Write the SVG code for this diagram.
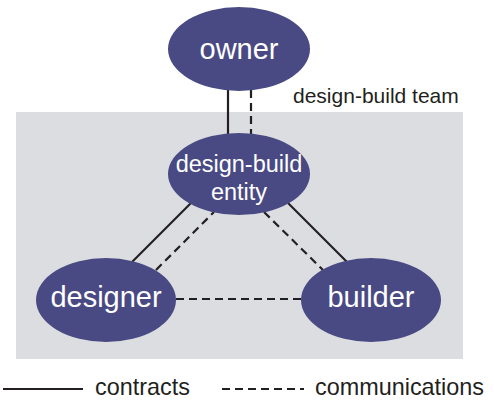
<svg xmlns="http://www.w3.org/2000/svg" width="494" height="403" viewBox="0 0 494 403">
<style>
.node{fill:#494a84}
.nt{fill:#fff;font-family:"Liberation Sans",Arial,sans-serif;text-anchor:middle}
.lbl{fill:#231f20;font-family:"Liberation Sans",Arial,sans-serif}
.solid{stroke:#231f20;stroke-width:2.2;fill:none}
.dash{stroke:#231f20;stroke-width:2.2;fill:none;stroke-dasharray:8 5}
</style>
<rect x="16" y="112" width="447" height="247" fill="#dcdde0"/>
<text class="lbl" x="293" y="103" font-size="21">design-build team</text>
<g id="connectors">
<line class="solid" x1="228" y1="88" x2="228" y2="136"/>
<line class="dash" x1="251" y1="90" x2="251" y2="136"/>
<line class="solid" x1="132" y1="262" x2="191" y2="203"/>
<line class="dash" x1="156" y1="270" x2="214" y2="212"/>
<line class="solid" x1="288" y1="203" x2="347" y2="262"/>
<line class="dash" x1="264" y1="212" x2="323" y2="270"/>
<line class="dash" x1="176" y1="299" x2="302" y2="299"/>
</g>
<g id="owner"><ellipse class="node" cx="239" cy="49" rx="71" ry="42"/><text class="nt" x="239" y="59" font-size="29">owner</text></g>
<g id="entity"><ellipse class="node" cx="239" cy="174" rx="71" ry="41"/><text class="nt" x="239" y="172" font-size="23.5">design-build</text><text class="nt" x="239" y="200" font-size="23.5">entity</text></g>
<g id="designer"><ellipse class="node" cx="106" cy="300" rx="70" ry="42"/><text class="nt" x="106" y="307" font-size="29">designer</text></g>
<g id="builder"><ellipse class="node" cx="371" cy="300" rx="70" ry="42"/><text class="nt" x="371" y="307" font-size="29">builder</text></g>
<g id="legend">
<line class="solid" x1="3" y1="389" x2="83" y2="389"/>
<text class="lbl" x="95" y="395" font-size="23.4">contracts</text>
<line class="dash" x1="222" y1="389" x2="304" y2="389" stroke-dasharray="9 5.5"/>
<text class="lbl" x="315" y="395" font-size="23.4">communications</text>
</g>
</svg>
